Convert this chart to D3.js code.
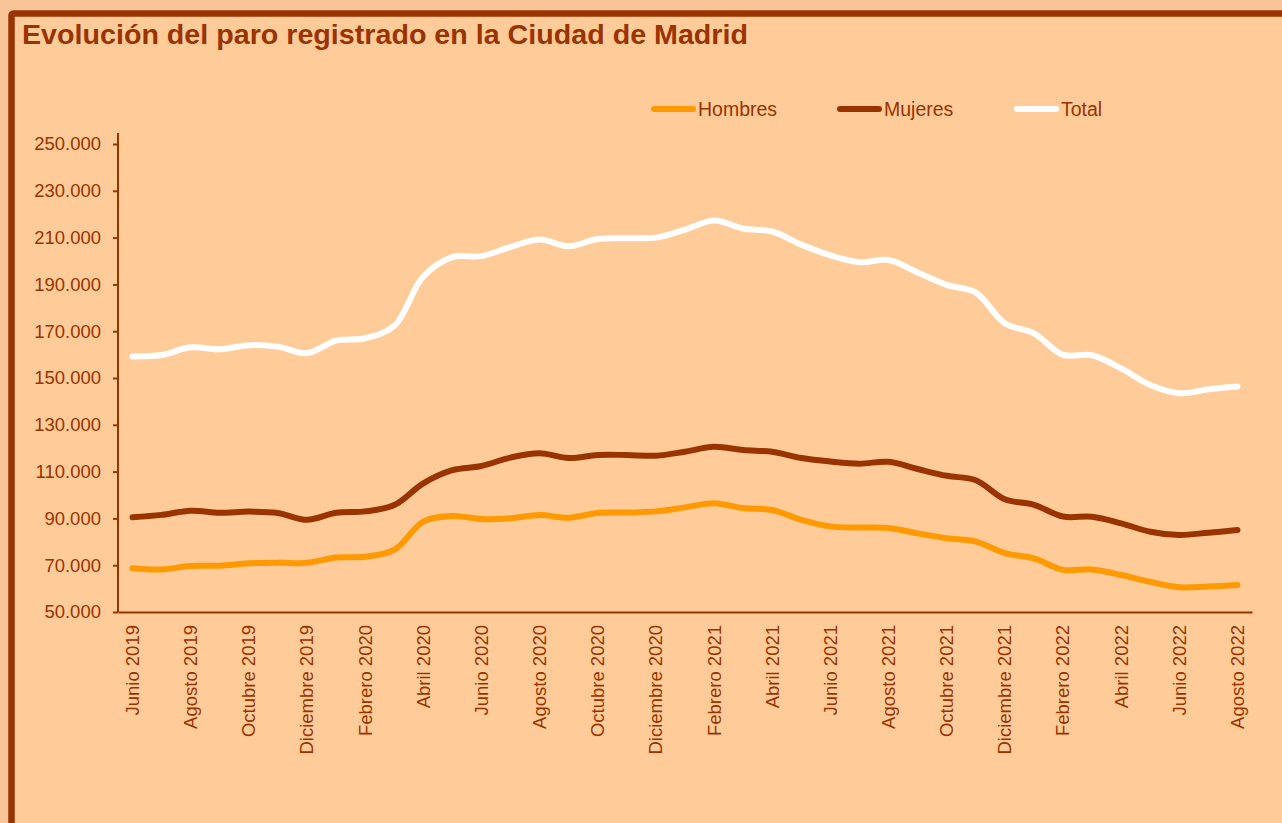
<!DOCTYPE html>
<html>
<head>
<meta charset="utf-8">
<title>Evolución del paro registrado en la Ciudad de Madrid</title>
<script src="https://d3js.org/d3.v7.min.js"></script>
<style>
  body { margin: 0; background: #f9c498; }
  svg { display: block; font-family: "Liberation Sans", Arial, sans-serif; }
</style>
</head>
<body>
<svg width="1282" height="823"></svg>
<script>
var months = ["Junio 2019","Julio 2019","Agosto 2019","Septiembre 2019","Octubre 2019","Noviembre 2019","Diciembre 2019",
  "Enero 2020","Febrero 2020","Marzo 2020","Abril 2020","Mayo 2020","Junio 2020","Julio 2020","Agosto 2020","Septiembre 2020","Octubre 2020","Noviembre 2020","Diciembre 2020",
  "Enero 2021","Febrero 2021","Marzo 2021","Abril 2021","Mayo 2021","Junio 2021","Julio 2021","Agosto 2021","Septiembre 2021","Octubre 2021","Noviembre 2021","Diciembre 2021",
  "Enero 2022","Febrero 2022","Marzo 2022","Abril 2022","Mayo 2022","Junio 2022","Julio 2022","Agosto 2022"];

var hombres = [68700,68200,69700,69800,70800,71100,71000,73300,73600,76500,88600,91000,89700,90100,91400,90300,92300,92500,93000,
  94700,96500,94400,93600,89400,86600,86100,85900,83600,81500,80100,75200,72900,68000,68200,65800,62900,60600,60900,61500];

var mujeres = [90500,91500,93300,92400,92900,92300,89400,92400,93000,95700,105000,110600,112400,116000,117800,115800,117100,117100,116800,
  118500,120600,119200,118500,115800,114300,113400,114200,111100,108200,106300,98200,95800,90800,90700,87900,84300,82900,83900,85000];

var total = [159200,159800,163100,162300,164000,163400,160600,166000,167000,172300,193400,201700,202100,206000,209200,206300,209400,209700,210000,
  213400,217300,213900,212600,207000,202400,199500,200400,195100,189800,186500,173400,169100,159900,159700,154100,147000,143500,145200,146400];

var yTicks = [50000,70000,90000,110000,130000,150000,170000,190000,210000,230000,250000];

var seriesNames = ["Hombres","Mujeres","Total"];
var seriesColors = ["#ff9900","#993300","#ffffff"];

var dark = "#993300";
var svg = d3.select("svg");

// frame
svg.append("rect")
  .attr("x", 11.5).attr("y", 13.5)
  .attr("width", 1400).attr("height", 900)
  .attr("rx", 2)
  .attr("fill", "#ffcc99")
  .attr("stroke", dark)
  .attr("stroke-width", 6.5);

svg.append("text")
  .attr("x", 22).attr("y", 44)
  .attr("fill", dark)
  .attr("font-size", 27)
  .attr("font-weight", "bold")
  .attr("textLength", 726)
  .attr("lengthAdjust", "spacingAndGlyphs")
  .text("Evolución del paro registrado en la Ciudad de Madrid");

var x = d3.scaleBand().domain(months).range([118, 1252]).padding(0);
var y = d3.scaleLinear().domain([50000, 250000]).range([612, 144]);

var es = d3.formatLocale({decimal: ",", thousands: ".", grouping: [3], currency: ["", " €"]});
var fmt = es.format(",d");

// y axis
var gy = svg.append("g")
  .attr("transform", "translate(118,0)")
  .call(d3.axisLeft(y).tickValues(yTicks).tickFormat(fmt).tickSize(5).tickPadding(12));
gy.select(".domain").remove();
gy.append("line").attr("x1", 0).attr("x2", 0).attr("y1", 133).attr("y2", 612)
  .attr("stroke", dark).attr("stroke-width", 2);
gy.selectAll(".tick line").attr("stroke", dark).attr("stroke-width", 2);
gy.selectAll(".tick text").attr("fill", dark).attr("font-size", 18.5).attr("font-family", "Liberation Sans, Arial, sans-serif");

// x axis
var gx = svg.append("g")
  .attr("transform", "translate(0,612)")
  .call(d3.axisBottom(x).tickSize(0).tickFormat(function(d, i) { return i % 2 === 0 ? d : ""; }));
gx.select(".domain").attr("stroke", dark).attr("stroke-width", 2);
gx.selectAll(".tick text")
  .attr("fill", dark)
  .attr("font-size", 18.5)
  .attr("font-family", "Liberation Sans, Arial, sans-serif")
  .attr("text-anchor", "end")
  .attr("transform", "rotate(-90)")
  .attr("x", -13)
  .attr("y", 0)
  .attr("dy", "0.35em");

// lines
var line = d3.line()
  .x(function(d, i) { return x(months[i]) + x.bandwidth() / 2; })
  .y(function(d) { return y(d); })
  .curve(d3.curveCatmullRom.alpha(0.5));

[hombres, mujeres, total].forEach(function(s, k) {
  svg.append("path")
    .datum(s)
    .attr("d", line)
    .attr("fill", "none")
    .attr("stroke", seriesColors[k])
    .attr("stroke-width", 6)
    .attr("stroke-linecap", "round")
    .attr("stroke-linejoin", "round");
});

// legend
var legX = [651, 837, 1014];
seriesNames.forEach(function(name, k) {
  svg.append("line")
    .attr("x1", legX[k] + 3).attr("x2", legX[k] + 42)
    .attr("y1", 109).attr("y2", 109)
    .attr("stroke", seriesColors[k])
    .attr("stroke-width", 6)
    .attr("stroke-linecap", "round");
  svg.append("text")
    .attr("x", legX[k] + 47).attr("y", 116)
    .attr("fill", dark)
    .attr("font-size", 19.5)
    .text(name);
});
</script>
</body>
</html>
